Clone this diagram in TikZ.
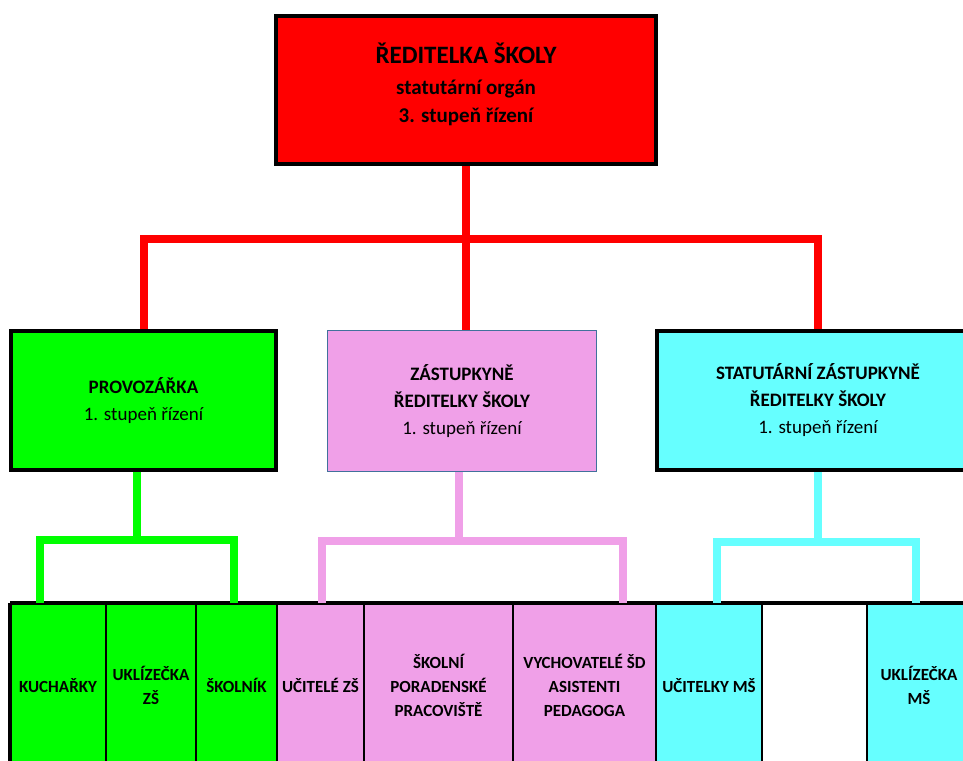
\documentclass[tikz,border=0pt]{standalone}
\usepackage{fontspec}
\setmainfont{Carlito}
\usetikzlibrary{positioning,calc}

\definecolor{rdred}{RGB}{255,0,0}
\definecolor{rdgreen}{RGB}{0,255,0}
\definecolor{rdpink}{RGB}{240,160,232}
\definecolor{rdcyan}{RGB}{102,255,255}
\definecolor{rdblue}{RGB}{65,113,156}

\begin{document}
\begin{tikzpicture}[x=1pt,y=-1pt,
	box/.style={draw=black,line width=4pt,align=center,inner sep=0pt,text=black,font=\fontsize{19}{27}\selectfont},
	cell/.style={minimum height=165pt,inner sep=0pt,outer sep=0pt,align=center,text=black,font=\fontsize{17}{24}\selectfont\bfseries},
	conn/.style={line width=8pt}]
			\useasboundingbox (0,0) rectangle (963,760);
			\clip (0,0) rectangle (963,760);
			
			% vedeni
			\node[box,fill=rdred,minimum width=380pt,minimum height=148pt,font=\fontsize{21}{28}\selectfont\bfseries] (red) at (466,90) {{\fontsize{25}{29}\selectfont ŘEDITELKA ŠKOLY}\\[3pt]statutární orgán\\3. stupeň řízení\\[-13pt]\mbox{}};
			
			\node[box,fill=rdgreen,minimum width=265pt,minimum height=139pt] (prov) at (143.5,400.5) {\textbf{PROVOZÁŘKA}\\1. stupeň řízení};
			\node[box,fill=rdpink,draw=rdblue,line width=1.5pt,minimum width=269pt,minimum height=141pt] (zast) at (462,401) {\textbf{ZÁSTUPKYNĚ}\\\textbf{ŘEDITELKY ŠKOLY}\\1. stupeň řízení};
			\node[box,fill=rdcyan,minimum width=322pt,minimum height=139pt] (stat) at (818,400.5) {\textbf{STATUTÁRNÍ ZÁSTUPKYNĚ}\\\textbf{ŘEDITELKY ŠKOLY}\\1. stupeň řízení};
			
			% spodni rada
			\node[cell,fill=rdgreen,minimum width=96pt,anchor=north west] (kuch) at (10,603) {KUCHAŘKY};
			\node[cell,fill=rdgreen,minimum width=90pt,right=0pt of kuch] (ukl) {UKLÍZEČKA\\ZŠ};
			\node[cell,fill=rdgreen,minimum width=81pt,right=0pt of ukl] (skol) {ŠKOLNÍK};
			\node[cell,fill=rdpink,minimum width=87pt,right=0pt of skol] (ucz) {UČITELÉ ZŠ};
			\node[cell,fill=rdpink,minimum width=149pt,right=0pt of ucz] (spp) {ŠKOLNÍ\\PORADENSKÉ\\PRACOVIŠTĚ};
			\node[cell,fill=rdpink,minimum width=143pt,right=0pt of spp] (vych) {VYCHOVATELÉ ŠD\\ASISTENTI\\PEDAGOGA};
			\node[cell,fill=rdcyan,minimum width=106pt,right=0pt of vych] (ucm) {UČITELKY MŠ};
			\node[cell,fill=white,minimum width=105pt,right=0pt of ucm] (prazd) {};
			\node[cell,fill=rdcyan,minimum width=104pt,right=0pt of prazd] (uklm) {UKLÍZEČKA\\MŠ};
			
			\foreach \c in {kuch,ukl,skol,ucz,spp,vych,ucm,prazd}
				\draw[line width=2pt] (\c.north east) -- (\c.south east);
			\draw[line width=4pt] (kuch.north west) -- (kuch.south west);
			\draw[line width=4.5pt] (kuch.north west) -- (uklm.north east);
			
			% cervene spoje
			\coordinate (rbar) at (466,239);
			\draw[conn,rdred] (red.south) -- (red.south |- zast.north);
			\draw[conn,rdred] (prov.north) |- (rbar) -| (stat.north);
			
			% zelene spoje
			\coordinate (gt) at (137,540);
			\coordinate (gl) at (40,540);
			\coordinate (gr) at (234,540);
			\draw[conn,rdgreen] (prov.south -| gt) -- (gt);
			\draw[conn,rdgreen] (kuch.north -| gl) -- (gl) -- (gr) -- (skol.north -| gr);
			
			% ruzove spoje
			\coordinate (pt) at (459,541);
			\coordinate (pl) at (322,541);
			\coordinate (pr) at (623,541);
			\draw[conn,rdpink] (zast.south -| pt) -- (pt);
			\draw[conn,rdpink] (ucz.north -| pl) -- (pl) -- (pr) -- (vych.north -| pr);
			
			% tyrkysove spoje
			\coordinate (ct) at (818,542);
			\coordinate (cl) at (717,542);
			\coordinate (cr) at (916,542);
			\draw[conn,rdcyan] (stat.south) -- (ct);
			\draw[conn,rdcyan] (ucm.north -| cl) -- (cl) -- (cr) -- (uklm.north -| cr);
\end{tikzpicture}
\end{document}
